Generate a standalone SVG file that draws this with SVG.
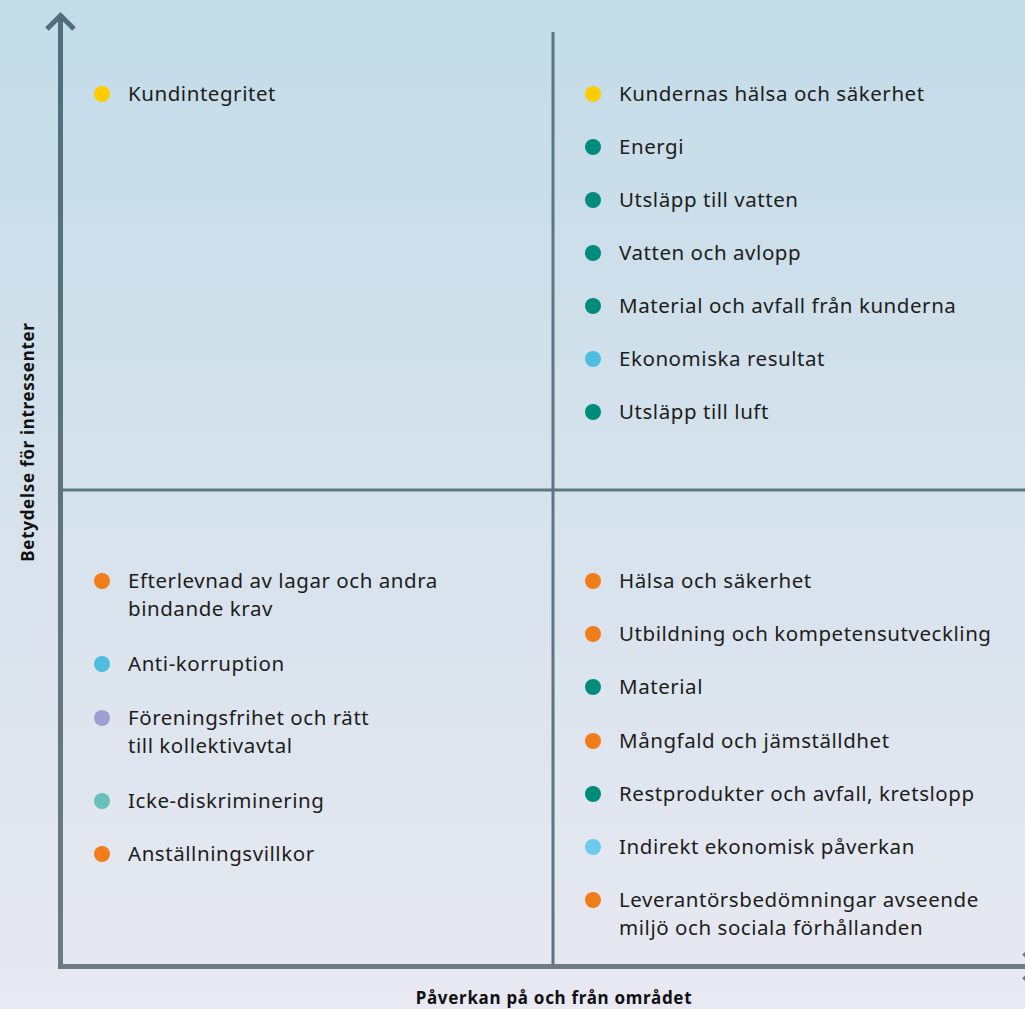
<svg xmlns="http://www.w3.org/2000/svg" width="1025" height="1009" viewBox="0 0 1025 1009">
<defs>
<linearGradient id="bg" x1="0" y1="0" x2="0" y2="1">
<stop offset="0" stop-color="#c3dce8"/>
<stop offset="0.5" stop-color="#d6e2ec"/>
<stop offset="1" stop-color="#e8e9f2"/>
</linearGradient>
<linearGradient id="ax" x1="0" y1="0" x2="0" y2="1009" gradientUnits="userSpaceOnUse">
<stop offset="0" stop-color="#4e6e7a"/>
<stop offset="1" stop-color="#6f7b80"/>
</linearGradient>
<style>
.t{font-family:"Noto Sans",Lato,sans-serif;font-size:20.5px;letter-spacing:0.55px;fill:#1d1d1b}
.ax{font-family:"Noto Sans",Lato,sans-serif;font-size:17px;letter-spacing:0.7px;font-weight:bold;fill:#111}
.div{stroke:#5c7781;stroke-width:3;fill:none}
.y{fill:#ffcc00}.g{fill:#008c7a}.b{fill:#4dbde0}.lb{fill:#6ccaee}.o{fill:#f07d1a}.p{fill:#9f9ed3}.tl{fill:#68c0bb}
</style>
</defs>
<rect width="1025" height="1009" fill="url(#bg)"/>
<g id="connectors">
<line class="div" x1="553" y1="32" x2="553" y2="965"/>
<line class="div" x1="63" y1="490" x2="1025" y2="490"/>
<path d="M60.5 968 V16" stroke="url(#ax)" stroke-width="5" fill="none"/>
<path d="M47 29 L60.5 15.5 L74 29" stroke="#4e6e7a" stroke-width="5" fill="none"/>
<path d="M58 966.5 H1025" stroke="#6f7b80" stroke-width="5" fill="none"/>
<path d="M1024 953 L1037.5 966.5 L1024 980" stroke="#6f7b80" stroke-width="5" fill="none"/>
</g>
<text class="ax" transform="translate(34,442) rotate(-90)" text-anchor="middle">Betydelse för intressenter</text>
<text class="ax" x="554" y="1004" text-anchor="middle">Påverkan på och från området</text>
<g id="n1"><circle class="y" cx="102" cy="94" r="8"/><text class="t" x="128" y="101">Kundintegritet</text></g>
<g id="n2"><circle class="y" cx="593" cy="94" r="8"/><text class="t" x="619" y="101">Kundernas hälsa och säkerhet</text></g>
<g id="n3"><circle class="g" cx="593" cy="147" r="8"/><text class="t" x="619" y="154">Energi</text></g>
<g id="n4"><circle class="g" cx="593" cy="200" r="8"/><text class="t" x="619" y="207">Utsläpp till vatten</text></g>
<g id="n5"><circle class="g" cx="593" cy="253" r="8"/><text class="t" x="619" y="260">Vatten och avlopp</text></g>
<g id="n6"><circle class="g" cx="593" cy="306" r="8"/><text class="t" x="619" y="313">Material och avfall från kunderna</text></g>
<g id="n7"><circle class="b" cx="593" cy="359" r="8"/><text class="t" x="619" y="366">Ekonomiska resultat</text></g>
<g id="n8"><circle class="g" cx="593" cy="412" r="8"/><text class="t" x="619" y="419">Utsläpp till luft</text></g>
<g id="n9"><circle class="o" cx="102" cy="581" r="8"/><text class="t" x="128" y="588">Efterlevnad av lagar och andra</text><text class="t" x="128" y="616">bindande krav</text></g>
<g id="n10"><circle class="b" cx="102" cy="664" r="8"/><text class="t" x="128" y="671">Anti-korruption</text></g>
<g id="n11"><circle class="p" cx="102" cy="718" r="8"/><text class="t" x="128" y="725">Föreningsfrihet och rätt</text><text class="t" x="128" y="753">till kollektivavtal</text></g>
<g id="n12"><circle class="tl" cx="102" cy="801" r="8"/><text class="t" x="128" y="808">Icke-diskriminering</text></g>
<g id="n13"><circle class="o" cx="102" cy="854" r="8"/><text class="t" x="128" y="861">Anställningsvillkor</text></g>
<g id="n14"><circle class="o" cx="593" cy="581" r="8"/><text class="t" x="619" y="588">Hälsa och säkerhet</text></g>
<g id="n15"><circle class="o" cx="593" cy="634" r="8"/><text class="t" x="619" y="641">Utbildning och kompetensutveckling</text></g>
<g id="n16"><circle class="g" cx="593" cy="687" r="8"/><text class="t" x="619" y="694">Material</text></g>
<g id="n17"><circle class="o" cx="593" cy="741" r="8"/><text class="t" x="619" y="748">Mångfald och jämställdhet</text></g>
<g id="n18"><circle class="g" cx="593" cy="794" r="8"/><text class="t" x="619" y="801">Restprodukter och avfall, kretslopp</text></g>
<g id="n19"><circle class="lb" cx="593" cy="847" r="8"/><text class="t" x="619" y="854">Indirekt ekonomisk påverkan</text></g>
<g id="n20"><circle class="o" cx="593" cy="900" r="8"/><text class="t" x="619" y="907">Leverantörsbedömningar avseende</text><text class="t" x="619" y="935">miljö och sociala förhållanden</text></g>
</svg>
